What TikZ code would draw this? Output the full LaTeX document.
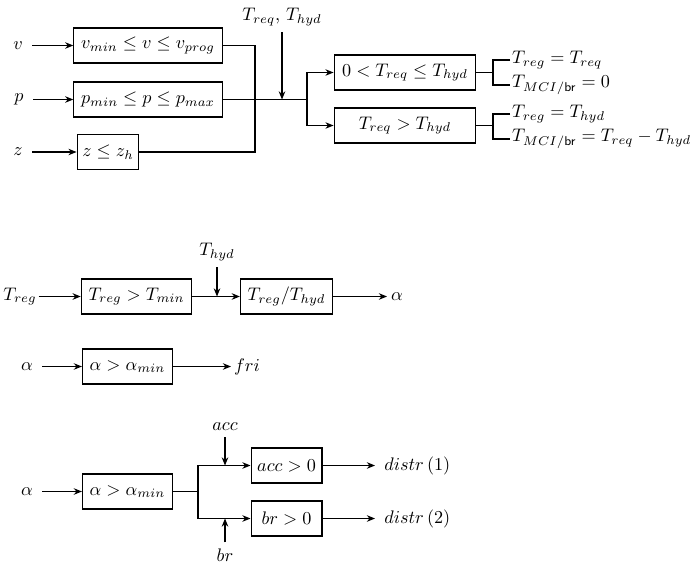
\documentclass[tikz,border=0pt]{standalone}
\usepackage{amsmath, amssymb}
\usepackage{tikz}
\usetikzlibrary{arrows.meta, positioning}
\tikzset{
  condbox/.style={draw, line width=0.6pt, minimum height=19.25pt,
                  inner xsep=4pt, inner ysep=2pt},
  signal/.style={inner sep=2pt},
  inlabel/.style={signal, inner sep=5pt},
  result/.style={signal, anchor=west, inner sep=1pt},
  flowline/.style={line width=0.6pt},
  flowarrow/.style={flowline, -{Stealth[length=4.5pt, width=3.6pt]}}
}

\begin{document}
\begin{tikzpicture}[
  x=0.55pt, y=-0.55pt,
  widebox/.style={condbox, minimum width=78pt},
  midbox/.style={condbox, minimum width=49pt},
  smallbox/.style={condbox, minimum width=39pt, inner xsep=2.5pt},
]
\useasboundingbox (0,0) rectangle (690,564);

% Torque request check
\node[widebox] (vbox) at (148,45.5) {$v_{min} \le v \le v_{prog}$};
\node[widebox] (pbox) at (148,99.5) {$p_{min} \le p \le p_{max}$};
\node[condbox, minimum width=34pt, inner xsep=2.5pt] (zbox) at (108,152) {$z \le z_h$};
\node[inlabel] (vin) at (18,45.5) {$v$};
\node[inlabel] (pin) at (19,99.5) {$p$};
\node[inlabel] (zin) at (18,152) {$z$};
\draw[flowarrow] (vin) -- (vbox);
\draw[flowarrow] (pin) -- (pbox);
\draw[flowarrow] (zin) -- (zbox);

\coordinate (merge) at (255,99.5);
\coordinate (join) at (282,99.5);
\coordinate (split) at (307,99.5);
\draw[flowline] (vbox.east) -| (merge) |- (zbox.east);
\draw[flowline] (pbox.east) -- (split);
\node (treq) at (282,17) {$T_{req}$, $T_{hyd}$};
\draw[flowarrow] (treq) -- (join);

\node[widebox] (case1) at (405,72.5) {$0 < T_{req} \le T_{hyd}$};
\node[widebox] (case2) at (405,125.5) {$T_{req} > T_{hyd}$};
\draw[flowarrow] (split) |- (case1.west);
\draw[flowarrow] (split) |- (case2.west);

% Results
\node[result] (res11) at (510,60) {$T_{reg} = T_{req}$};
\node[result] (res12) at (510,85) {$T_{MCI/\mathsf{br}} = 0$};
\node[result] (res21) at (510,114) {$T_{reg} = T_{hyd}$};
\node[result] (res22) at (510,139) {$T_{MCI/\mathsf{br}} = T_{req} - T_{hyd}$};
\coordinate (brace1) at (493,72.5);
\coordinate (brace2) at (493,125.5);
\draw[flowline] (case1.east) -- (brace1);
\draw[flowline] (case2.east) -- (brace2);
\draw[flowline] (res11.west) -| (brace1) |- (res12.west);
\draw[flowline] (res21.west) -| (brace2) |- (res22.west);

% Ratio alpha
\node[signal, inner sep=1pt] (tregin) at (20,296.5) {$T_{reg}$};
\node[midbox, minimum width=58.85pt] (minbox) at (136.5,296.5) {$T_{reg} > T_{min}$};
\node[midbox] (ratiobox) at (286.5,296.5) {$T_{reg}/T_{hyd}$};
\node (thyd) at (217,252) {$T_{hyd}$};
\coordinate (join2) at (217,296.5);
\node[result, inner sep=2pt] (alphaout) at (387,296.5) {$\alpha$};
\draw[flowarrow] (tregin) -- (minbox);
\draw[flowarrow] (minbox) -- (ratiobox);
\draw[flowarrow] (thyd) -- (join2);
\draw[flowarrow] (ratiobox) -- (alphaout);

% Freewheel
\node[inlabel] (alphain1) at (27,366.5) {$\alpha$};
\node[midbox] (aminbox1) at (127.5,366.5) {$\alpha > \alpha_{min}$};
\node[result, inner sep=1.5pt] (fri) at (231,366.5) {$fri$};
\draw[flowarrow] (alphain1) -- (aminbox1);
\draw[flowarrow] (aminbox1) -- (fri);

% Distribution
\node[inlabel] (alphain2) at (27,491.5) {$\alpha$};
\node[midbox] (aminbox2) at (127.5,491.5) {$\alpha > \alpha_{min}$};
\coordinate (split3) at (198,491.5);
\node[smallbox] (accbox) at (286.5,465.5) {$acc > 0$};
\node[smallbox] (brbox) at (286.5,518.5) {$br > 0$};
\node (acc) at (225,427) {$acc$};
\node (br) at (225,555) {$br$};
\coordinate (joinacc) at (225,465.5);
\coordinate (joinbr) at (225,518.5);
\node[result, inner sep=5pt] (distr1) at (375,465.5) {$distr\,(1)$};
\node[result, inner sep=5pt] (distr2) at (375,518.5) {$distr\,(2)$};
\draw[flowarrow] (alphain2) -- (aminbox2);
\draw[flowline] (aminbox2) -- (split3);
\draw[flowarrow] (split3) |- (accbox.west);
\draw[flowarrow] (split3) |- (brbox.west);
\draw[flowarrow] (acc) -- (joinacc);
\draw[flowarrow] (br) -- (joinbr);
\draw[flowarrow] (accbox) -- (distr1);
\draw[flowarrow] (brbox) -- (distr2);

\end{tikzpicture}
\end{document}
